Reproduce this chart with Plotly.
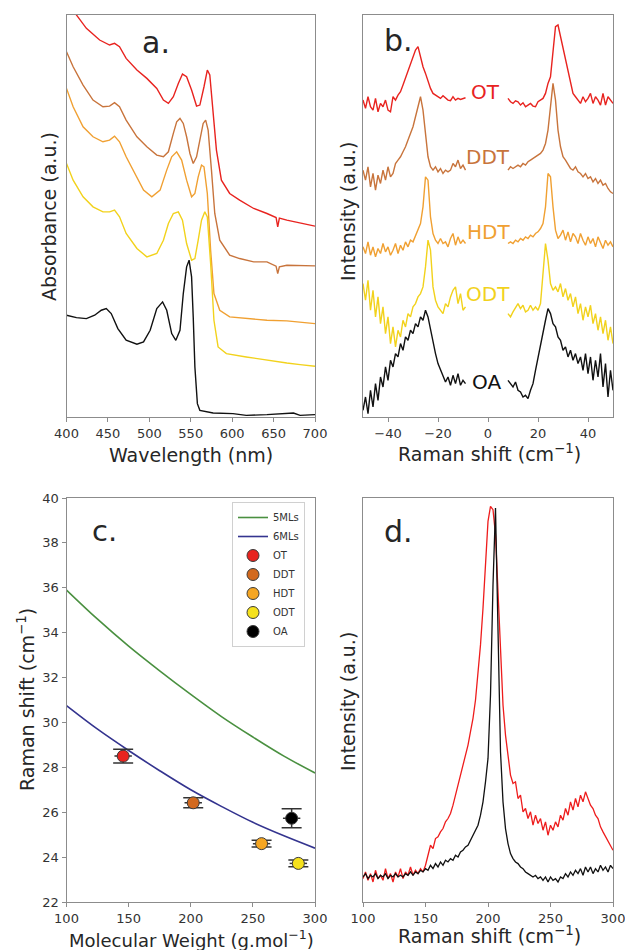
import plotly.graph_objects as go

W, H = 625, 950
FONT = "DejaVu Sans"
TXT = "#262626"
AX = "#8c8c8c"

RED = "#e8231f"
BROWN = "#c8743c"
ORANGE = "#f0a032"
YELLOW = "#f2d21c"
BLACK = "#111111"

# ---------------- a. absorbance (offset spectra, a.u.)
wl_ot = [400, 412, 424, 440, 452, 458, 464, 472, 485, 497, 509, 517, 523, 529, 535, 540, 545, 551, 557, 561,
         566, 570, 573, 577, 581, 587, 597, 609, 626, 642, 653, 655, 657, 666, 682, 700]
abs_ot = [129, 120.5, 116.5, 113, 111.5, 112, 111, 107.5, 104, 101.5, 98.5, 95, 94, 96, 100, 102.8, 102, 98, 93.2, 93.5,
          99, 104, 102.5, 92, 80, 71, 67, 65, 62.5, 61, 59.8, 57, 59.6, 59, 58.2, 57.2]

wl_ddt = [400, 408, 420, 432, 444, 452, 458, 464, 472, 485, 497, 509, 517, 523, 529, 533, 537, 541, 545, 549,
          553, 557, 561, 565, 568, 571, 575, 579, 585, 597, 609, 626, 642, 653, 655, 657, 666, 682, 700]
abs_ddt = [109.5, 105, 99.5, 95, 93, 93.2, 94.2, 93, 89, 84, 81, 78.5, 78, 79.5, 85, 88.5, 89.5, 88, 84, 79,
           76, 78, 83, 88, 89, 86, 74, 61, 53, 48.5, 47.5, 46.5, 46.5, 45.2, 43, 45, 45.5, 45.5, 45.3]

wl_hdt = [400, 408, 420, 432, 444, 452, 458, 464, 472, 485, 493, 503, 513, 521, 527, 533, 539, 545, 551, 555,
          559, 563, 566, 570, 574, 578, 585, 597, 617, 642, 666, 682, 700]
abs_hdt = [98.5, 93, 87, 84, 82.5, 83, 84.2, 82.5, 78, 72, 68, 66, 68, 74, 78, 79.5, 77, 71, 66, 67,
           72, 75.5, 75, 67, 50, 37, 32, 30, 29.5, 29, 28.8, 28.5, 28]

wl_odt = [400, 408, 420, 432, 444, 452, 458, 464, 472, 485, 497, 509, 517, 523, 529, 535, 540, 545, 551, 555,
          559, 563, 567, 570, 574, 578, 583, 593, 617, 642, 655, 666, 682, 700]
abs_odt = [76, 71, 66, 63, 61.5, 61.5, 62, 60, 55, 50.5, 48, 49, 53, 58, 61, 61.5, 59, 52, 47, 47.5,
           53, 59, 61.5, 60, 46, 29, 21, 19, 18, 17, 16.5, 16.2, 15.7, 15.2]

wl_oa = [400, 412, 424, 434, 442, 448, 454, 462, 472, 485, 493, 501, 509, 516, 521, 527, 532, 537, 541, 545,
         548, 551, 553, 555, 558, 561, 577, 601, 617, 642, 674, 682, 700]
abs_oa = [30.5, 29.8, 29.5, 30.5, 32, 32.5, 31, 26.5, 23, 21.8, 22.5, 26, 32.5, 34.5, 32, 25, 23, 26, 37, 45,
          47, 42, 30, 15, 4, 2, 1.2, 1, 0.5, 0.7, 1.2, 0.5, 0.7]

# ---------------- b. low-frequency Raman (offset, a.u.), laser-line gap around 0
b_left = list(range(-50, -8))   # -50 .. -9
b_right = list(range(8, 51))    # 8 .. 50

ot_l = [95, 92.5, 96, 93, 92, 95.5, 91.5, 94, 93, 95, 92, 91.5, 96, 95, 96.5, 97.5, 99.5, 101.5, 104, 106,
        108, 110, 111, 107.5, 105, 103, 100.5, 98.5, 97, 96.5, 96, 95.5, 96.3, 95.5, 95, 94.8, 96, 95, 95.5, 95.2,
        95.5, 95.7]
ot_r = [95.5, 94.5, 94, 94.8, 94.5, 93.5, 94.2, 93, 93.5, 94, 93.2, 93, 94.5, 95, 95.5, 97, 100, 102, 109, 117,
        117.5, 114, 110, 107, 103, 100.5, 97, 96, 95, 94, 96, 94.5, 95.5, 97, 94, 96, 95, 93.5, 97, 93.5,
        96, 95, 94]
ddt_l = [74, 71, 75, 69, 73, 68, 72.5, 70, 74, 71, 75, 72, 73, 76, 77, 78, 79.5, 81, 83, 85,
         87, 90, 93, 96, 92, 84, 78, 75, 74, 75, 73.5, 74.5, 73, 74, 73.5, 74, 76, 75, 77, 74.5,
         75.5, 74]
ddt_r = [74, 75, 74.5, 75, 75.5, 75, 76, 75.5, 76.5, 77, 77.5, 78, 78.5, 79, 80, 82, 86, 93, 100, 95,
         86, 81, 78, 77, 75.5, 74.5, 74, 75, 73.5, 73, 72, 73, 71.5, 72, 70.5, 71.5, 70, 71, 69.5, 70,
         68.5, 67.5, 67]
hdt_l = [51, 49, 52.5, 48.5, 51, 48, 50.5, 49, 52, 49.5, 51, 48.5, 50, 52, 49, 51.5, 50, 52.5, 51, 53,
         52.5, 54.5, 56, 58, 63, 72, 71, 60, 55, 53, 52, 53.5, 52, 52.5, 51, 53.5, 55, 51.5, 54, 52,
         53, 52]
hdt_r = [52, 52.5, 52, 53, 52.5, 53.5, 53, 54, 53.5, 54.5, 54, 55, 55.5, 56.5, 58, 63, 73, 72, 63, 56,
         53.5, 54.5, 56, 53, 55.5, 52.5, 55, 54, 52, 55, 53, 51.5, 54, 52, 53.5, 51, 54, 52, 50.5, 53,
         51.5, 52.5, 51]
odt_l = [40, 35, 41, 32, 38, 30, 36, 28, 33, 25, 30, 22, 27, 21, 26, 24, 29, 27, 31, 30,
         33, 34, 36, 37, 39, 45, 53, 50, 39, 35, 33, 32, 31, 34, 33, 36, 38, 39, 34, 37,
         32, 33]
odt_r = [31, 30, 31.5, 33, 34, 32.5, 33.5, 31.5, 32, 33.5, 32, 33, 32, 34, 44, 52, 47, 40, 38, 39,
         37.5, 40, 36, 38.5, 35, 37, 33, 36, 31, 34, 29, 33, 30, 33.5, 28, 31, 26, 30, 25, 29,
         23, 27, 22]
oa_l = [2, 6, 1, 8, 3, 10, 5, 12, 9, 15, 11, 17, 15, 19, 18, 22, 20, 24, 23, 26,
        25, 28, 27, 30, 29, 32, 30, 26, 22, 19, 16, 14, 12.5, 10.5, 12, 9.5, 12.5, 10, 13, 9.5,
        11, 10]
oa_r = [11, 10, 9, 10.5, 8, 7.5, 6, 6.5, 5.5, 8, 10, 14, 18, 22, 25, 29, 32.5, 31, 28, 27,
        24, 23, 20, 21, 18, 20, 17, 19, 16, 18, 14, 19, 13, 18, 11, 17, 12, 19, 9, 16,
        6, 14, 8]

# ---------------- c. Raman shift vs ligand molecular weight
mw_fit = [100, 125, 150, 175, 200, 225, 250, 275, 300]
shift_5ml = [35.9, 34.6, 33.4, 32.3, 31.25, 30.25, 29.35, 28.5, 27.75]
shift_6ml = [30.75, 29.7, 28.75, 27.85, 27.0, 26.25, 25.55, 24.95, 24.4]
ligands = ["OT", "DDT", "HDT", "ODT", "OA"]
lig_colors = ["#e8231f", "#d2691e", "#f5a623", "#f5e11c", "#000000"]
lig_mw = [145.6, 202, 257, 286.6, 281.2]
lig_shift = [28.5, 26.42, 24.6, 23.72, 25.73]
lig_err = [0.31, 0.22, 0.15, 0.15, 0.42]

# ---------------- d. Raman spectra 100-300 cm-1
d_shift = list(range(100, 301, 2))
d_red = [7, 9, 6.5, 8.5, 6, 9.5, 7, 8, 6.5, 10,
         7, 8.5, 6, 9, 7.5, 10, 7, 9, 8, 10.5,
         8, 9.5, 8.5, 10, 9, 11, 14, 17, 16, 19,
         19.5, 21, 22, 24, 25, 26.5, 29, 32, 35, 38,
         41.5, 44, 47, 51, 55, 60.5, 68, 77, 88, 101,
         114, 118.5, 117.5, 110, 92, 72, 59, 50, 43, 38,
         35.5, 36, 31, 32, 27, 28, 25, 27, 23, 26,
         23.5, 25, 21.5, 24, 20, 23, 21.5, 24, 22.5, 26,
         24.5, 28, 26, 30, 27.5, 31, 28.5, 32, 30, 33,
         31, 29, 28, 26, 25, 22.5, 21, 19.5, 18, 17,
         15.5]
d_black = [7.5, 8.5, 7, 8, 7.5, 8.5, 7, 8, 7.5, 8.5,
           7, 8, 7.5, 8.5, 7.5, 8, 7.5, 8.5, 8, 9,
           8, 9, 8.5, 9.5, 9, 10, 9.5, 11, 10, 11.5,
           10.5, 12, 11, 12.5, 12, 13, 12.5, 14, 13.5, 15,
           15.5, 16.5, 17, 18.5, 19.5, 21, 23, 26, 30, 36,
           43, 62, 95, 118, 82, 45, 30, 22, 17.5, 14.5,
           13, 12, 11.5, 10.5, 10, 9, 8.5, 8, 7.5, 8,
           7, 7.5, 6.5, 7.5, 6, 7.5, 6.5, 7, 6, 7.5,
           7, 8.5, 7.5, 9, 8, 9.5, 8.5, 10, 8, 10.5,
           9, 10.5, 8.5, 10, 9, 11, 9.5, 10.5, 9, 11,
           10]


def px(x):
    return x / W


def py(y):
    return 1 - y / H


fig = go.Figure()

# a.
for wl, ab, col in [(wl_ot, abs_ot, RED), (wl_ddt, abs_ddt, BROWN), (wl_hdt, abs_hdt, ORANGE),
                    (wl_odt, abs_odt, YELLOW), (wl_oa, abs_oa, BLACK)]:
    fig.add_trace(go.Scatter(x=wl, y=ab, mode="lines", line=dict(color=col, width=1.4),
                             showlegend=False, xaxis="x", yaxis="y"))

# b.
for yl, yr, col in [(ot_l, ot_r, RED), (ddt_l, ddt_r, BROWN), (hdt_l, hdt_r, ORANGE),
                    (odt_l, odt_r, YELLOW), (oa_l, oa_r, BLACK)]:
    fig.add_trace(go.Scatter(x=b_left + [None] + b_right, y=yl + [None] + yr, mode="lines",
                             line=dict(color=col, width=1.4), showlegend=False,
                             xaxis="x2", yaxis="y2"))

# c.
fig.add_trace(go.Scatter(x=mw_fit, y=shift_5ml, mode="lines", name="5MLs",
                         line=dict(color="#4a9040", width=1.6), line_shape="spline",
                         xaxis="x3", yaxis="y3"))
fig.add_trace(go.Scatter(x=mw_fit, y=shift_6ml, mode="lines", name="6MLs",
                         line=dict(color="#34348f", width=1.6), line_shape="spline",
                         xaxis="x3", yaxis="y3"))
for name, col, m, s, e in zip(ligands, lig_colors, lig_mw, lig_shift, lig_err):
    fig.add_trace(go.Scatter(x=[m], y=[s], mode="markers", name=name,
                             marker=dict(color=col, size=12, line=dict(color="#3a3a3a", width=1)),
                             error_y=dict(type="constant", value=e, color="#333333", thickness=1.5, width=10),
                             error_x=dict(type="constant", value=7, color="#333333", thickness=1.5, width=0),
                             xaxis="x3", yaxis="y3"))

# d.
fig.add_trace(go.Scatter(x=d_shift, y=d_red, mode="lines", line=dict(color="#ee1c1c", width=1.3),
                         showlegend=False, xaxis="x4", yaxis="y4"))
fig.add_trace(go.Scatter(x=d_shift, y=d_black, mode="lines", line=dict(color=BLACK, width=1.3),
                         showlegend=False, xaxis="x4", yaxis="y4"))

axis_common = dict(showline=True, mirror=True, linecolor=AX, linewidth=1, showgrid=False,
                   zeroline=False, ticks="outside", ticklen=4, tickcolor=AX, automargin=False,
                   ticklabeloverflow="allow",
                   tickfont=dict(family=FONT, size=13, color="#333333"))
no_y = dict(showline=True, mirror=True, linecolor=AX, linewidth=1, showgrid=False,
            zeroline=False, ticks="", showticklabels=False, automargin=False)

col_l = [px(66.5), px(315)]
col_r = [px(363), px(613)]
row_t = [py(417), py(15)]
row_b = [py(902), py(498)]

fig.update_layout(
    width=W, height=H, margin=dict(l=0, r=0, t=0, b=0, autoexpand=False),
    plot_bgcolor="white", paper_bgcolor="white",
    font=dict(family=FONT, color=TXT),
    xaxis=dict(axis_common, domain=col_l, range=[400, 700], dtick=50, anchor="y"),
    yaxis=dict(no_y, domain=row_t, range=[0, 120.5], anchor="x"),
    xaxis2=dict(axis_common, domain=col_r, range=[-50, 50], tickvals=[-40, -20, 0, 20, 40], anchor="y2"),
    yaxis2=dict(no_y, domain=row_t, range=[0, 120.5], anchor="x2"),
    xaxis3=dict(axis_common, domain=col_l, range=[100, 300], dtick=50, anchor="y3"),
    yaxis3=dict(axis_common, domain=row_b, range=[22, 40], dtick=2, anchor="x3"),
    xaxis4=dict(axis_common, domain=col_r, range=[100, 300], dtick=50, anchor="y4"),
    yaxis4=dict(no_y, domain=row_b, range=[0, 121], anchor="x4"),
    legend=dict(x=px(305), y=py(502), xanchor="right", yanchor="top",
                font=dict(family=FONT, size=10, color="#333333"),
                bgcolor="white", bordercolor="#d0d0d0", borderwidth=1,
                tracegroupgap=0, itemwidth=30),
)

ann = []


def label(text, x, y, size, angle=0, anchor="middle"):
    ann.append(dict(text=text, x=px(x), y=py(y), xref="paper", yref="paper", showarrow=False,
                    textangle=angle, xanchor="center", yanchor=anchor,
                    font=dict(family=FONT, size=size, color=TXT)))


# panel letters
label("a.", 156, 42, 30)
label("b.", 398, 41, 30)
label("c.", 104, 531, 29)
label("d.", 398, 531, 30)

# axis titles
label("Wavelength (nm)", 191, 455, 19)
label("Raman shift (cm<sup>−1</sup>)", 489, 453, 19)
label("Absorbance (a.u.)", 49, 217, 19, angle=-90)
label("Intensity (a.u.)", 348, 212, 19, angle=-90)
label("Raman shift (cm<sup>−1</sup>)", 26, 700, 19, angle=-90)
label("Molecular Weight (g.mol<sup>−1</sup>)", 192, 925, 18, anchor="top")
label("Raman shift (cm<sup>−1</sup>)", 489, 935, 19)
label("Intensity (a.u.)", 348, 702, 19, angle=-90)

# spectrum labels in b.
for txt, x, y, col in [("OT", -1, 97.5, RED), ("DDT", 0, 78, BROWN), ("HDT", 0, 55.5, ORANGE),
                       ("ODT", 0, 37, YELLOW), ("OA", -0.5, 10.5, BLACK)]:
    ann.append(dict(text=txt, x=x, y=y, xref="x2", yref="y2", showarrow=False,
                    xanchor="center", yanchor="middle", font=dict(family=FONT, size=20, color=col)))

fig.update_layout(annotations=ann)

# drop the page's default 8px body margin so the figure sits at the window origin
fig.write_html("out.html", config={"displayModeBar": False},
               post_script="document.body.style.margin='0px';document.body.style.overflow='hidden';")
